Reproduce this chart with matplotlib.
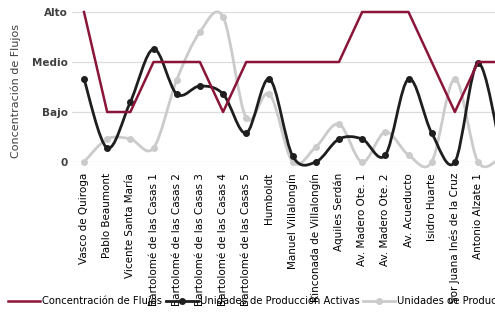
import matplotlib
matplotlib.use("Agg")
import matplotlib.pyplot as plt
import numpy as np
from matplotlib.path import Path
from matplotlib.patches import PathPatch
from matplotlib.lines import Line2D

# ── data (levels: 0, Bajo=1, Medio=2, Alto=3) ───────────────────────────────
# the chart is cropped on the right: the last point lies just past the edge
categories = [
    "Vasco de Quiroga", "Pablo Beaumont", "Vicente Santa María",
    "Bartolomé de las Casas 1", "Bartolomé de las Casas 2",
    "Bartolomé de las Casas 3", "Bartolomé de las Casas 4",
    "Bartolomé de las Casas 5", "Humboldt", "Manuel Villalongín",
    "Rinconada de Villalongín", "Aquiles Serdán", "Av. Madero Ote. 1",
    "Av. Madero Ote. 2", "Av. Acueducto", "Isidro Huarte",
    "Sor Juana Inés de la Cruz", "Antonio Alzate 1",
]
flujos = [3, 1, 1, 2, 2, 2, 1, 2, 2, 2, 2, 2, 3, 3, 3, 2, 1, 2, 2]
activas = [1.66, 0.28, 1.2, 2.26, 1.36, 1.52, 1.36, 0.58, 1.66, 0.12,
           0.0, 0.46, 0.46, 0.14, 1.66, 0.58, 0.0, 1.98, 0.2]
inactivas = [0.0, 0.46, 0.46, 0.28, 1.64, 2.6, 2.9, 0.88, 1.36, 0.0,
             0.3, 0.76, 0.0, 0.6, 0.14, 0.0, 1.66, 0.0, 0.1]
ytick_labels = ["0", "Bajo", "Medio", "Alto"]

RED = "#8A1538"
BLACK = "#1E1E1E"
GREY = "#CBCBCB"
TXT = "#404040"
FONT = ["Liberation Sans Narrow", "DejaVu Sans"]

plt.rcParams["font.family"] = FONT


def smooth_path(xs, ys):
    # Excel-like smoothed line: cubic Bezier through every point
    pts = np.column_stack([xs, ys]).astype(float)
    n = len(pts)
    verts = [pts[0]]
    codes = [Path.MOVETO]
    for i in range(n - 1):
        p0 = pts[i - 1] if i > 0 else pts[i]
        p1 = pts[i]
        p2 = pts[i + 1]
        p3 = pts[i + 2] if i + 2 < n else pts[i + 1]
        verts += [p1 + (p2 - p0) / 6, p2 - (p3 - p1) / 6, p2]
        codes += [Path.CURVE4] * 3
    return Path(verts, codes)


fig = plt.figure(figsize=(4.95, 3.16), dpi=100)
n = len(flujos)
step = 23.18 / 495
left = (84 - 11.6) / 495
ax = fig.add_axes([left, (316 - 162) / 316, step * n, 150 / 316])
x = np.arange(n)

for level in range(4):
    ax.axhline(level, color="#DCDCDC", linewidth=0.9, zorder=1)

ax.plot(x, flujos, color=RED, linewidth=1.8, zorder=4, clip_on=False)

for vals, col, z in [(inactivas, GREY, 2), (activas, BLACK, 3)]:
    ax.add_patch(PathPatch(smooth_path(x, vals), facecolor="none",
                           edgecolor=col, linewidth=2.0, zorder=z,
                           clip_on=False))
    ax.plot(x, vals, linestyle="none", marker="o", markersize=4,
            color=col, zorder=z, clip_on=False)

ax.set_xlim(-0.5, n - 0.5)
ax.set_ylim(0, 3)
ax.set_xticks(np.arange(len(categories)))
ax.set_xticklabels(categories, rotation=90, fontsize=7.5, color="black",
                   va="top", ha="center")
ax.set_yticks(range(4))
ax.set_yticklabels(ytick_labels, fontsize=7.5, color=TXT, fontweight="bold")
ax.tick_params(length=0)
ax.tick_params(axis="y", pad=3)
ax.tick_params(axis="x", pad=8)
for s in ax.spines.values():
    s.set_visible(False)

fig.text(0.031, (316 - 91) / 316, "Concentración de Flujos", rotation=90,
         ha="center", va="center", fontsize=8, color=TXT)

handles = [
    Line2D([], [], color=RED, linewidth=1.8),
    Line2D([], [], color=BLACK, linewidth=2.0, marker="o", markersize=4),
    Line2D([], [], color=GREY, linewidth=2.0, marker="o", markersize=4),
]
labels = ["Concentración de Flujos", "Unidades de Producción Activas",
          "Unidades de Producción Inactivas"]
fig.legend(handles, labels, loc="center left",
           bbox_to_anchor=(8 / 495, (316 - 301) / 316), ncol=3, frameon=False,
           fontsize=7.2, handlelength=3.2, handletextpad=0.25,
           columnspacing=0.3, borderaxespad=0, borderpad=0)

fig.savefig("out.png", dpi=100)
